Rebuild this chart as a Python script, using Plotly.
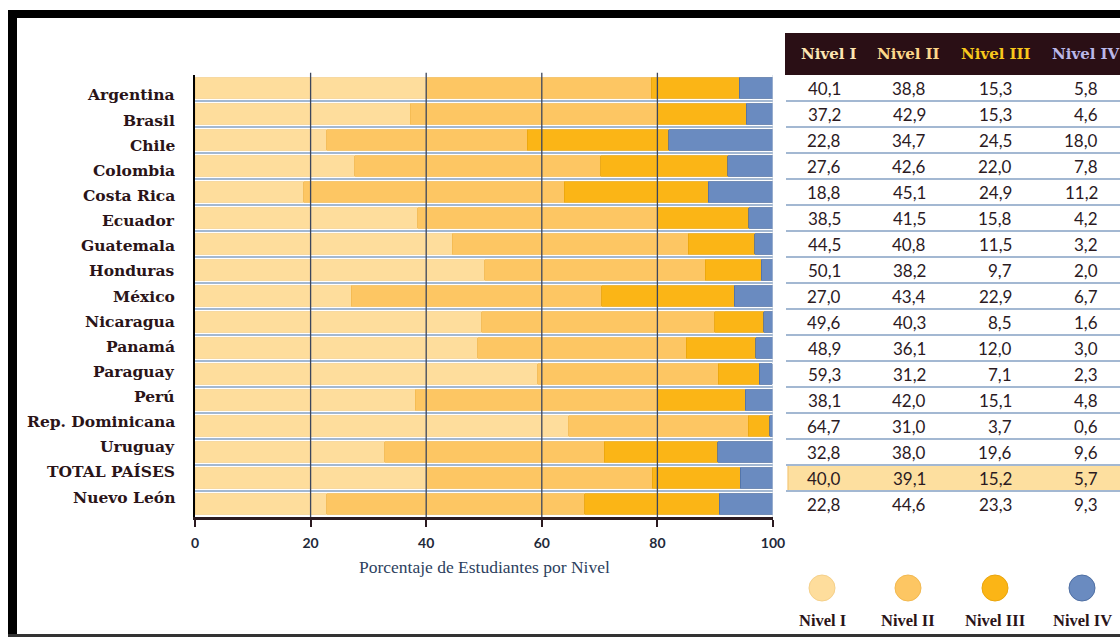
import plotly.graph_objects as go

paises = ["Argentina", "Brasil", "Chile", "Colombia", "Costa Rica", "Ecuador",
          "Guatemala", "Honduras", "México", "Nicaragua", "Panamá", "Paraguay",
          "Perú", "Rep. Dominicana", "Uruguay", "TOTAL PAÍSES", "Nuevo León"]
nivel_1 = [40.1, 37.2, 22.8, 27.6, 18.8, 38.5, 44.5, 50.1, 27.0, 49.6, 48.9, 59.3, 38.1, 64.7, 32.8, 40.0, 22.8]
nivel_2 = [38.8, 42.9, 34.7, 42.6, 45.1, 41.5, 40.8, 38.2, 43.4, 40.3, 36.1, 31.2, 42.0, 31.0, 38.0, 39.1, 44.6]
nivel_3 = [15.3, 15.3, 24.5, 22.0, 24.9, 15.8, 11.5, 9.7, 22.9, 8.5, 12.0, 7.1, 15.1, 3.7, 19.6, 15.2, 23.3]
nivel_4 = [5.8, 4.6, 18.0, 7.8, 11.2, 4.2, 3.2, 2.0, 6.7, 1.6, 3.0, 2.3, 4.8, 0.6, 9.6, 5.7, 9.3]
niveles = ["Nivel I", "Nivel II", "Nivel III", "Nivel IV"]
x_ticks = [0, 20, 40, 60, 80, 100]
x_title = "Porcentaje de Estudiantes por Nivel"

series = [nivel_1, nivel_2, nivel_3, nivel_4]
colores = ["#fedd9c", "#fdc663", "#fbb516", "#6a8bc0"]
bordes = ["#f5d08a", "#f2b950", "#eaa50c", "#4f6fa3"]
header_cols = ["#fde6b2", "#fdd88a", "#f8c81c", "#bbb8e8"]

W, H = 1120, 637
L, R, T, B = 195, 773, 75, 517


def px(p):
    return (p - L) / (R - L)


def py(p):
    return (B - p) / (B - T)


fig = go.Figure()
for nombre, vals, c, bc in zip(niveles, series, colores, bordes):
    fig.add_trace(go.Bar(
        y=paises, x=vals, name=nombre, orientation="h",
        marker=dict(color=c, line=dict(color=bc, width=0.8)),
        hoverinfo="skip", showlegend=False,
    ))

shapes = []
# vertical gridlines drawn over bars
for t in x_ticks[1:-1]:
    shapes.append(dict(type="line", xref="x", yref="paper", x0=t, x1=t, y0=0, y1=1.005,
                       line=dict(color="#3c465c", width=1.3), layer="above"))
shapes.append(dict(type="line", xref="x", yref="paper", x0=100, x1=100, y0=0, y1=1,
                   line=dict(color="#c4cedc", width=1), layer="above"))

# table header
shapes.append(dict(type="rect", xref="paper", yref="paper", x0=px(785), x1=px(1122),
                   y0=py(75), y1=py(33), fillcolor="#2a0f15", line=dict(width=0), layer="above"))

# TOTAL row highlight
idx_total = paises.index("TOTAL PAÍSES")
shapes.append(dict(type="rect", xref="paper", yref="y", x0=px(788), x1=px(1122),
                   y0=idx_total - 0.5, y1=idx_total + 0.5, fillcolor="#fddf9f",
                   line=dict(color="#f3c777", width=1.2), layer="below"))

# table row separators
for i in range(len(paises) - 1):
    shapes.append(dict(type="line", xref="paper", yref="y", x0=px(786), x1=px(1122),
                       y0=i + 0.5, y1=i + 0.5, line=dict(color="#a3b8d2", width=2)))

# legend circles
legend_x = [822, 908, 995, 1082]
for xc, c, bc in zip(legend_x, colores, bordes):
    shapes.append(dict(type="circle", xref="paper", yref="paper",
                       xsizemode="pixel", ysizemode="pixel",
                       xanchor=px(xc), yanchor=py(588),
                       x0=-13, x1=13, y0=-13, y1=13,
                       fillcolor=c, line=dict(color=bc, width=1)))

# frame
shapes.append(dict(type="rect", xref="paper", yref="paper", x0=px(8), x1=px(17),
                   y0=py(640), y1=py(10), fillcolor="#000000", line=dict(width=0)))
shapes.append(dict(type="rect", xref="paper", yref="paper", x0=px(8), x1=px(1122),
                   y0=py(18), y1=py(10), fillcolor="#000000", line=dict(width=0)))
shapes.append(dict(type="rect", xref="paper", yref="paper", x0=px(8), x1=px(1122),
                   y0=py(640), y1=py(634), fillcolor="#333333", line=dict(width=0)))

annotations = []
# country labels (in the original they sit on a slightly tighter pitch than the bars)
for i, p in enumerate(paises):
    annotations.append(dict(text=p, xref="paper", yref="paper", x=px(177),
                            y=py(95 + i * 25.125), xanchor="right", yanchor="middle",
                            showarrow=False,
                            font=dict(family="DejaVu Serif", size=15.5, color="#2a1418", weight="bold")))

# header labels
header_x = [829, 908, 996, 1086]
for txt, xc, c in zip(niveles, header_x, header_cols):
    annotations.append(dict(text=txt, xref="paper", yref="paper", x=px(xc), y=py(54),
                            xanchor="center", yanchor="middle", showarrow=False,
                            font=dict(family="DejaVu Serif", size=15, color=c, weight="bold")))

# table values
col_right = [843, 928, 1014, 1100]
for i, p in enumerate(paises):
    for j, vals in enumerate(series):
        annotations.append(dict(text=f"{vals[i]:.1f}".replace(".", ","), xref="paper", yref="y",
                                x=px(col_right[j]), y=p, xanchor="right", yanchor="middle",
                                showarrow=False,
                                font=dict(family="Lato", size=17, color="#2b1a1f")))

# legend labels
for txt, xc in zip(niveles, legend_x):
    annotations.append(dict(text=txt, xref="paper", yref="paper", x=px(xc), y=py(620),
                            xanchor="center", yanchor="middle", showarrow=False,
                            font=dict(family="Liberation Serif", size=16.5, color="#2b1418", weight="bold")))

# x axis title
annotations.append(dict(text=x_title, xref="paper", yref="paper", x=0.5, y=py(567),
                        xanchor="center", yanchor="middle", showarrow=False,
                        font=dict(family="Liberation Serif", size=17.5, color="#2d3f5e")))

fig.update_layout(
    barmode="stack", bargap=0.2,
    width=W, height=H,
    margin=dict(l=L, r=W - R, t=T, b=H - B, pad=0),
    paper_bgcolor="white", plot_bgcolor="white",
    shapes=shapes, annotations=annotations,
    xaxis=dict(range=[0, 100], tickvals=x_ticks, ticktext=[str(t) for t in x_ticks],
               showgrid=False, zeroline=False, showline=True, linecolor="#2b1a20", linewidth=3,
               ticks="outside", ticklen=7, tickwidth=2, tickcolor="#2b1a20",
               ticklabelstandoff=4,
               tickfont=dict(family="Lato", size=14, color="#1f2a3a", weight="bold")),
    yaxis=dict(type="category", categoryorder="array", categoryarray=paises,
               autorange="reversed", tickson="boundaries", ticks="",
               showgrid=True, gridcolor="#a3b8d2", gridwidth=2,
               showline=True, linecolor="#000000", linewidth=2, zeroline=False,
               showticklabels=False),
)

fig.write_html("out.html")
